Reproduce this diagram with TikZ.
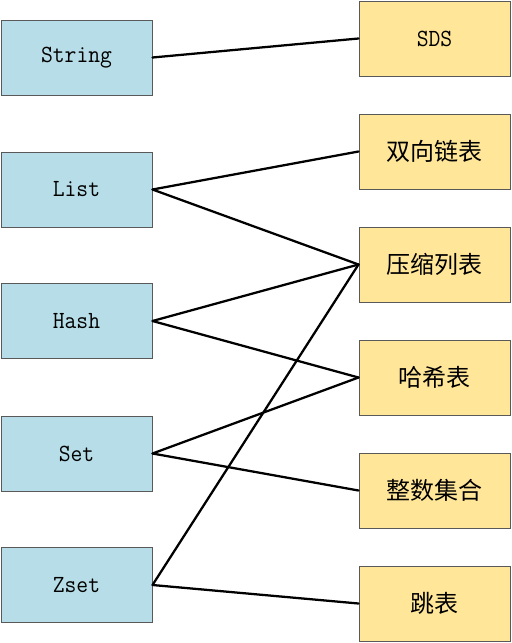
\documentclass[tikz,border=0pt]{standalone}
\usepackage{fontspec}
\newfontfamily\typefont[FakeStretch=0.93]{Latin Modern Mono}
\newfontfamily\cjkfont{Noto Sans CJK SC}
\definecolor{typeblue}{HTML}{B7DEE8}
\definecolor{implyellow}{HTML}{FFE699}
\definecolor{boxgray}{HTML}{595959}
\tikzset{
  typebox/.style={draw=boxgray,line width=.75pt,fill=typeblue,minimum width=113.25pt,
    minimum height=56.25pt,inner sep=0pt,font=\typefont\fontsize{18.5}{20}\selectfont},
  implbox/.style={draw=boxgray,line width=.75pt,fill=implyellow,minimum width=113.25pt,
    minimum height=56.25pt,inner sep=0pt,font=\cjkfont\fontsize{18}{20}\selectfont},
  link/.style={line width=1.7pt,line cap=round}
}
\begin{document}
\begin{tikzpicture}[x=.75pt,y=-.75pt]
\useasboundingbox (0,0) rectangle (511,643);
% object types
\node[typebox] (str) at (76.5,57.5) {String};
\node[typebox] (lst) at (76.5,189.5) {List};
\node[typebox] (hsh) at (76.5,321) {Hash};
\node[typebox] (set) at (76.5,453.5) {Set};
\node[typebox] (zst) at (76.5,585) {Zset};
% encodings
\node[implbox] (sds) at (434.5,38.5) {\typefont\fontsize{18.5}{20}\selectfont SDS};
\node[implbox] (dlist) at (434.5,151.5) {双向链表};
\node[implbox] (ziplist) at (434.5,264.5) {压缩列表};
\node[implbox] (hashtable) at (434.5,377.5) {哈希表};
\node[implbox] (intset) at (434.5,490.5) {整数集合};
\node[implbox] (skiplist) at (434.5,603.5) {跳表};
%%%%
\foreach \a/\b in {str/sds,lst/dlist,lst/ziplist,hsh/ziplist,hsh/hashtable,
  set/hashtable,set/intset,zst/ziplist,zst/skiplist}
\draw[link] (\a.east) -- (\b.west);
\end{tikzpicture}
\end{document}
